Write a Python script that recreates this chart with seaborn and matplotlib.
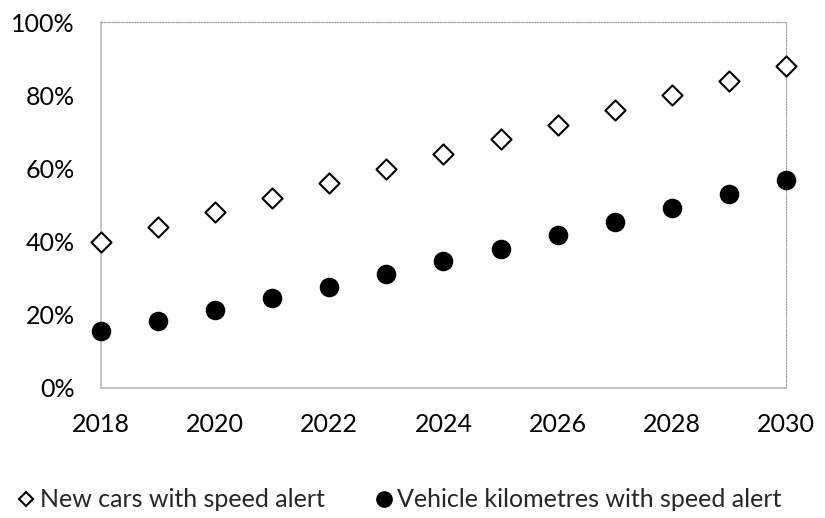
import numpy as np
import pandas as pd
import matplotlib
matplotlib.use("Agg")
import matplotlib.pyplot as plt
import seaborn as sns
from matplotlib.ticker import PercentFormatter
from matplotlib.lines import Line2D

years = list(range(2018, 2031))
new_cars = [40, 44, 48, 52, 56, 60, 64, 68, 72, 76, 80, 84, 88]
vehicle_km = [15.7, 18.3, 21.2, 24.5, 27.7, 31.2, 34.6, 38.1, 41.8, 45.5, 49.3, 53.1, 57.0]
series_names = ["New cars with speed alert", "Vehicle kilometres with speed alert"]

df = pd.DataFrame({"year": years, series_names[0]: new_cars, series_names[1]: vehicle_km})

sns.set_style("white")
plt.rcParams["font.family"] = ["Lato", "DejaVu Sans"]

fig = plt.figure(figsize=(8.25, 5.18), dpi=100)
ax = fig.add_axes([0.1225, 0.251, 0.83, 0.706])

sns.scatterplot(data=df, x="year", y=series_names[0], marker="D", s=105,
                facecolor="white", edgecolor="black", linewidth=1.5, ax=ax, clip_on=False, zorder=3)
sns.scatterplot(data=df, x="year", y=series_names[1], marker="o", s=170,
                color="black", edgecolor="black", ax=ax, clip_on=False, zorder=3)

ax.set_xlim(2018, 2030)
ax.set_ylim(0, 100)
ax.set_xticks(range(2018, 2031, 2))
ax.set_yticks(range(0, 101, 20))
ax.yaxis.set_major_formatter(PercentFormatter(decimals=0))
ax.set_xlabel("")
ax.set_ylabel("")
ax.tick_params(axis="both", labelsize=18, length=0, colors="black")
ax.tick_params(axis="x", pad=18)
ax.tick_params(axis="y", pad=19)

for side in ["left", "bottom"]:
    ax.spines[side].set_color("#bfbfbf")
    ax.spines[side].set_linewidth(1.3)
for side in ["top", "right"]:
    ax.spines[side].set_color("#9a9a9a")
    ax.spines[side].set_linestyle((0, (1, 1.5)))
    ax.spines[side].set_linewidth(0.8)

handles = [
    Line2D([], [], marker="D", linestyle="", markersize=7, markerfacecolor="white",
           markeredgecolor="black", markeredgewidth=1.5, label=series_names[0]),
    Line2D([], [], marker="o", linestyle="", markersize=11, color="black", label=series_names[1]),
]
fig.legend(handles=handles, loc="center", bbox_to_anchor=(0.483, 0.035), ncol=2, frameon=False,
           fontsize=18, handletextpad=0.1, columnspacing=1.9, handlelength=0.9)

fig.savefig("out.png", dpi=100)
